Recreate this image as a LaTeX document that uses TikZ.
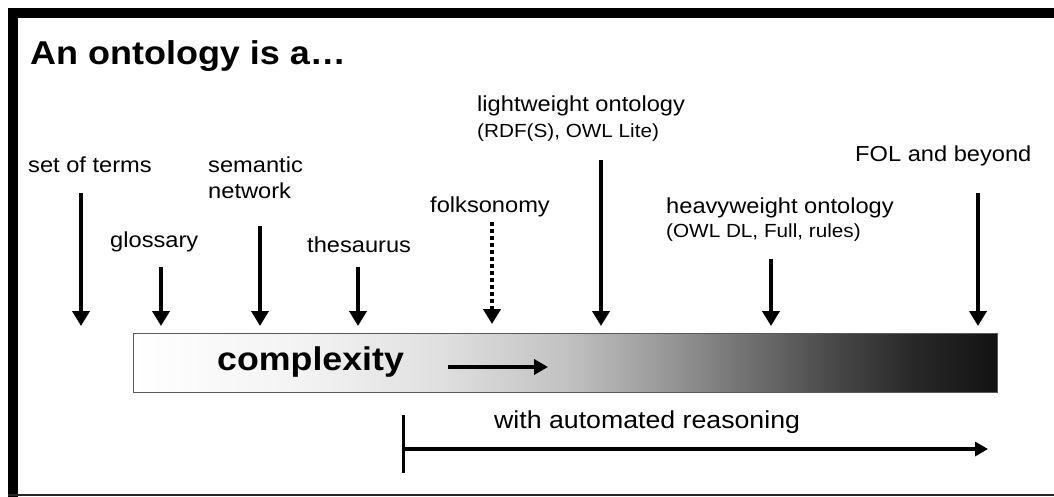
\documentclass[tikz,border=0pt]{standalone}
\usepackage{fontspec}
\setmainfont{Liberation Sans}[FakeStretch=1.09]
\usetikzlibrary{arrows.meta}

% grey ramp of the complexity bar (the path spans 25bp..75bp)
\pgfdeclarehorizontalshading{cplxshade}{100bp}{%
  color(0bp)=(white); color(25bp)=(white); color(35bp)=(black!5);
  color(42.5bp)=(black!12); color(50bp)=(black!24); color(55bp)=(black!38);
  color(60bp)=(black!54); color(65bp)=(black!70); color(70bp)=(black!84);
  color(75bp)=(black!93); color(100bp)=(black!93)}

\begin{document}
\begin{tikzpicture}[x=1pt,y=-1pt,
  lbl/.style={anchor=base west, inner sep=0pt, align=left,
              font=\fontsize{21.7}{26}\selectfont},
  sublbl/.style={anchor=base west, inner sep=0pt,
              font=\fontsize{19}{24}\selectfont},
  pointer/.style={line width=4pt, -{Triangle[width=17pt,length=15pt]}},
]
\useasboundingbox (0,0) rectangle (1054,497);
\fill[white] (0,0) rectangle (1054,497);

% frame
\fill[black] (8,8) rectangle (1054,18);
\fill[black] (8,8) rectangle (18,497);
\draw[line width=2.5pt, black!85] (8,495) -- (1054,495);

% title
\node[anchor=base west, inner sep=0pt, font=\fontsize{33}{38}\selectfont\bfseries]
  (title) at (30,65) {An ontology is a…};

% complexity bar
\node[anchor=north west, inner sep=0pt, minimum width=864pt, minimum height=59pt,
      shading=cplxshade, draw=black!65, line width=1pt] (bar) at (133,333) {};
\node[anchor=base west, inner sep=0pt, font=\fontsize{32.8}{38}\selectfont\bfseries]
  (cplx) at (217,370) {complexity};
\coordinate (cA) at (448,367);
\coordinate (cB) at (548,367);
\draw[line width=4pt, -{Triangle[width=15pt,length=14pt]}] (cA) -- (cB);

% labels
\node[lbl] (terms) at (28,173) {set of terms};
\node[lbl] (gloss) at (110,247) {glossary};
\node[lbl] (semnet) at (208,199) {semantic\\network};
\node[lbl] (thes) at (307,252) {thesaurus};
\node[lbl] (folk) at (430,212) {folksonomy};
\node[lbl] (light) at (477,112) {lightweight ontology};
\node[sublbl] (lightsub) at (477,138) {(RDF(S), OWL Lite)};
\node[lbl] (heavy) at (666,213) {heavyweight ontology};
\node[sublbl] (heavysub) at (666,237) {(OWL DL, Full, rules)};
\node[lbl] (fol) at (855,162) {FOL and beyond};

% pointer ends
\coordinate (pTerms) at (81,193);   \coordinate (qTerms) at (81,326);
\coordinate (pGloss) at (161,267);  \coordinate (qGloss) at (161,326);
\coordinate (pSem) at (260,226);    \coordinate (qSem) at (260,326);
\coordinate (pThes) at (358,267);   \coordinate (qThes) at (358,326);
\coordinate (pFolk) at (492,222);   \coordinate (qFolk) at (492,324);
\coordinate (pLight) at (601,160);  \coordinate (qLight) at (601,326);
\coordinate (pHeavy) at (771,259);  \coordinate (qHeavy) at (771,326);
\coordinate (pFol) at (978,193);    \coordinate (qFol) at (978,326);

\draw[pointer] (pTerms) -- (qTerms);
\draw[pointer] (pGloss) -- (qGloss);
\draw[pointer] (pSem) -- (qSem);
\draw[pointer] (pThes) -- (qThes);
\draw[pointer, dash pattern=on 4pt off 3pt] (pFolk) -- (qFolk);
\draw[pointer] (pLight) -- (qLight);
\draw[pointer] (pHeavy) -- (qHeavy);
\draw[pointer] (pFol) -- (qFol);

% automated reasoning range
\node[anchor=base west, inner sep=0pt, font=\fontsize{24.5}{29}\selectfont]
  (auto) at (494,428) {with automated reasoning};
\coordinate (rTop) at (403,415);
\coordinate (rBot) at (403,473);
\coordinate (rStart) at (403,449);
\coordinate (rEnd) at (988,449);
\draw[line width=3pt] (rTop) -- (rBot);
\draw[line width=4pt, -{Triangle[width=14pt,length=13pt]}] (rStart) -- (rEnd);
\end{tikzpicture}
\end{document}
